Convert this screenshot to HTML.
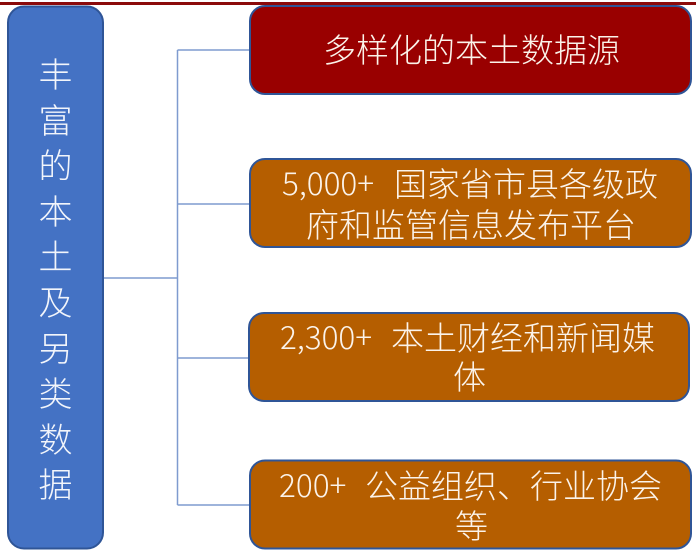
<!DOCTYPE html>
<html><head><meta charset="utf-8">
<style>
html,body{margin:0;padding:0;background:#fff;}
#c{position:relative;width:696px;height:558px;overflow:hidden;background:#fff;color:#fbf3ea;}
.t{position:absolute;white-space:pre;font-size:33px;line-height:40px;height:40px;font-family:"Liberation Sans","Noto Sans CJK SC",sans-serif;font-weight:300;}
.l{font-size:31.5px;font-family:"Noto Sans CJK SC",sans-serif;}
.v{position:absolute;left:8px;width:95px;text-align:center;font-size:34px;line-height:45.6px;font-family:"Noto Sans CJK SC",sans-serif;font-weight:300;color:#f2f5fb;}
svg{position:absolute;left:0;top:0;}
</style></head><body>
<div id="c">
<svg width="696" height="558">
<rect x="0" y="2" width="696" height="3" fill="#8b0a0a"/>
<g fill="none" stroke="#7f9bcf" stroke-width="1.5">
<path d="M103.5 278H177.5M177.5 50V505M177.5 50H250M177.5 204H250M177.5 358H249M177.5 505H250"/>
</g>
<rect x="8" y="6.5" width="95" height="542" rx="16" fill="#4472c4" stroke="#2f5597" stroke-width="2"/>
<rect x="250" y="6" width="441" height="88" rx="15" fill="#990000" stroke="#2f5597" stroke-width="2"/>
<rect x="250" y="159" width="441" height="88" rx="15" fill="#b55e00" stroke="#2f5597" stroke-width="2"/>
<rect x="249" y="313" width="440" height="88" rx="15" fill="#b55e00" stroke="#2f5597" stroke-width="2"/>
<rect x="250" y="460.5" width="441" height="88" rx="15" fill="#b55e00" stroke="#2f5597" stroke-width="2"/>
</svg>
<div class="v" style="top:50px">丰<br>富<br>的<br>本<br>土<br>及<br>另<br>类<br>数<br>据</div>
<div class="t" style="left:323px;top:31px">多样化的本土数据源</div>
<div class="t l" style="left:282px;top:162px">5,000+</div>
<div class="t" style="left:394px;top:165px">国家省市县各级政</div>
<div class="t" style="left:306px;top:206px">府和监管信息发布平台</div>
<div class="t l" style="left:280px;top:316px">2,300+</div>
<div class="t" style="left:391px;top:319px">本土财经和新闻媒</div>
<div class="t" style="left:453px;top:358px">体</div>
<div class="t l" style="left:279px;top:464px">200+</div>
<div class="t" style="left:365px;top:467px">公益组织、行业协会</div>
<div class="t" style="left:455px;top:507px">等</div>
</div>
</body></html>
